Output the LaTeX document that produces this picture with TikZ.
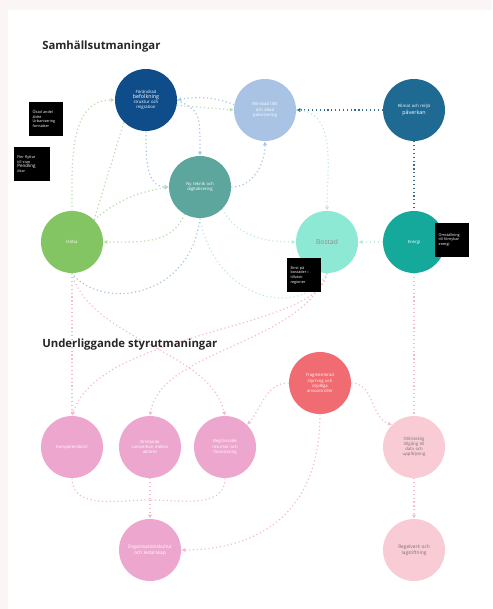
\documentclass[tikz,border=0pt]{standalone}
\usepackage{fontspec}
\setmainfont{Open Sans}
\usetikzlibrary{arrows.meta,backgrounds}

\definecolor{darkblue}{HTML}{0E4C8A}
\definecolor{paleblue}{HTML}{A9C3E5}
\definecolor{steelblue}{HTML}{1F6A93}
\definecolor{seagreen}{HTML}{5DA69D}
\definecolor{grassgreen}{HTML}{83C563}
\definecolor{mint}{HTML}{8DE9D3}
\definecolor{teal}{HTML}{14A99B}
\definecolor{coral}{HTML}{F16B72}
\definecolor{rose}{HTML}{EDA7CE}
\definecolor{blush}{HTML}{F9CBD5}
\definecolor{linegreen}{HTML}{B8DEAB}
\definecolor{lineblue}{HTML}{AAC5E4}
\definecolor{linedark}{HTML}{3A6A8E}
\definecolor{linepink}{HTML}{F4BBCF}
\definecolor{linemint}{HTML}{BEEBDF}
\definecolor{pagetint}{HTML}{FCF5F5}

\tikzset{
  topic/.style={circle,minimum size=46.5pt,inner sep=1pt,text width=38pt,align=center,
    font=\fontsize{3.2}{3.9}\selectfont,text=white},
  note/.style={fill=black,text=white,minimum width=25pt,minimum height=25pt,text width=20pt,
    align=left,inner sep=2pt,font=\fontsize{2.8}{3.5}\selectfont},
  heading/.style={anchor=west,inner sep=0pt,text=black!85,font=\bfseries\fontsize{8.5}{10}\selectfont},
  link/.style={dotted,line width=0.9pt,-{Latex[length=3pt,width=3.2pt]}},
}

\begin{document}
\begin{tikzpicture}[x=0.75pt,y=-0.75pt]
\useasboundingbox (0,0) rectangle (492,609);

% headings
\node[heading] (h1) at (42,47) {Samhällsutmaningar};
\node[heading] (h2) at (42,345) {Underliggande styrutmaningar};

% societal challenges
\node[topic,fill=darkblue] (demo) at (146,100) {Förändrad\\ {\fontsize{4}{5}\selectfont befolkning}\\ struktur och\\ migration};
\node[topic,fill=paleblue] (tillit) at (265,110) {Minskad tillit\\ och ökad\\ polarisering};
\node[topic,fill=steelblue] (klimat) at (414,110) {Klimat och miljö\\ {\fontsize{4}{5}\selectfont påverkan}};
\node[topic,fill=seagreen] (teknik) at (200,187) {Ny teknik och\\ digitalisering};
\node[topic,fill=grassgreen] (halsa) at (72,242) {Hälsa};
\node[topic,fill=mint,text=black!45,font=\fontsize{5}{6}\selectfont] (bostad) at (327,242) {Bostad};
\node[topic,fill=teal] (energi) at (414,242) {Energi};

% underlying challenges
\node[topic,fill=coral] (styrning) at (320,383) {Fragmenterad\\ styrning och\\ otydliga\\ ansvarsroller};
\node[topic,fill=rose] (kompetens) at (72,447) {Kompetensbrist};
\node[topic,fill=rose] (samverkan) at (150,447) {Bristande\\ samverkan mellan\\ aktörer};
\node[topic,fill=rose] (resurser) at (225,447) {Begränsade\\ resurser och\\ finansiering};
\node[topic,fill=blush,text=black!55] (data) at (414,447) {Otillräcklig\\ tillgång till\\ data och\\ uppföljning};
\node[topic,fill=rose,font=\fontsize{3.6}{4.4}\selectfont] (kultur) at (150,550) {Organisationskultur\\ och ledarskap};
\node[topic,fill=blush,text=black!55,font=\fontsize{3.6}{4.4}\selectfont] (regel) at (414,550) {Regelverk och\\ lagstiftning};

% black notes
\node[note] (n1) at (46,119) {Ökad andel\\ äldre\\ Urbanisering\\ fortsätter};
\node[note,minimum width=27pt,text width=22pt] (n2) at (32,164) {Fler flyttar\\ till stan\\ {\fontsize{3.4}{4}\selectfont Pendling}\\ ökar};
\node[note] (n3) at (452,240) {Omställning\\ till förnybar\\ energi};
\node[note] (n4) at (304,275) {Brist på\\ bostäder i\\ tillväxt-\\ regioner};

\coordinate (join) at (150,500);

\begin{scope}[on background layer]
\fill[pagetint] (0,0) rectangle (492,609);
\fill[white] (8,10) rectangle (492,609);

% links among societal challenges
\draw[link,linedark] (klimat) -- (tillit);
\draw[link,linedark,-] (klimat) -- (energi);
\draw[link,linegreen] (halsa.north) to[out=90,in=180] (demo.west);
\draw[link,linegreen,-] (halsa.north east) -- (demo.south west);
\draw[link,linegreen] (demo.-10) to[out=-5,in=175] (tillit.west);
\draw[link,lineblue] (tillit.170) to[out=160,in=10] (demo.east);
\draw[link,lineblue] (demo.east) .. controls (200,112) .. (teknik.north);
\draw[link,lineblue] (demo.south) to[out=-90,in=180] (teknik.west);
\draw[link,linegreen] (halsa.north east) to[out=40,in=190] (teknik.west);
\draw[link,lineblue] (teknik.east) to[out=0,in=-90] (tillit.south);
\draw[link,linemint] (tillit.east) to[out=0,in=90] (bostad.north);
\draw[link,linegreen] (teknik.-120) to[out=-110,in=0] (halsa.east);
\draw[link,linemint] (teknik.-45) to[out=-60,in=180] (bostad.west);
\draw[link,lineblue,-] (teknik.south) .. controls (190,300) and (100,310) .. (halsa.south);
\draw[link,linemint,-] (teknik.south) .. controls (215,300) and (300,320) .. (bostad.south);
\draw[link,linemint] (energi) -- (bostad);

% links down to underlying challenges
\draw[link,linepink,-] (halsa.south) -- (kompetens.north);
\draw[link,linepink] (halsa.south) .. controls (90,340) and (210,350) .. (resurser.north);
\draw[link,linepink] (bostad.south) .. controls (320,330) and (100,330) .. (kompetens.north);
\draw[link,linepink] (bostad.south) .. controls (300,345) and (160,350) .. (samverkan.north);
\draw[link,linepink] (styrning.west) to[out=180,in=50] (resurser.north east);
\draw[link,linepink] (styrning.east) to[out=0,in=160] (data.north west);
\draw[link,linepink] (styrning.south) .. controls (320,520) and (250,550) .. (kultur.east);
\draw[link,linepink,-] (energi.south) -- (data.north);
\draw[link,linepink] (data.south) -- (regel.north);
\draw[link,linepink,-] (kompetens.south) to[out=-90,in=180] (join);
\draw[link,linepink,-] (resurser.south) to[out=-90,in=0] (join);
\draw[link,linepink,-] (samverkan.south) -- (join);
\draw[link,linepink] (join) -- (kultur.north);
\end{scope}
\end{tikzpicture}
\end{document}
